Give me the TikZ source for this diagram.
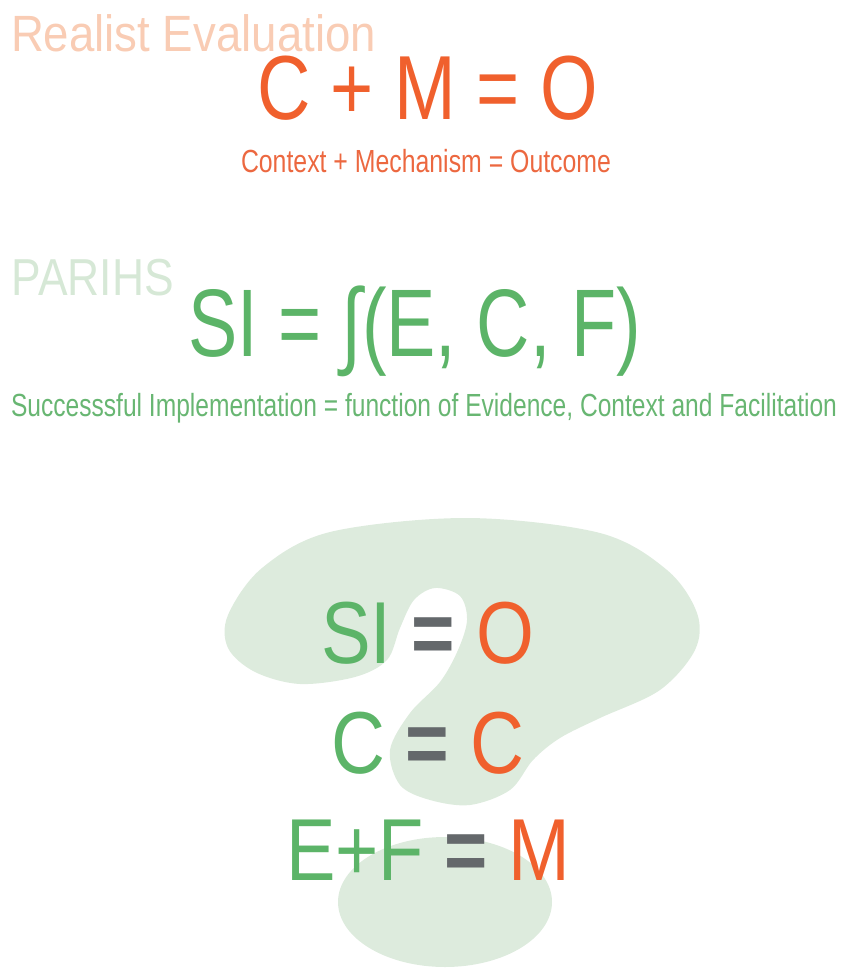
\documentclass[tikz,border=0pt]{standalone}
\usepackage{fontspec}
\usepackage{graphicx}
\setmainfont{Liberation Sans}
\definecolor{peach}{RGB}{249,204,180}
\definecolor{orng}{RGB}{240,96,45}
\definecolor{orngsmall}{RGB}{236,104,64}
\definecolor{grn}{RGB}{92,180,104}
\definecolor{grnsmall}{RGB}{104,182,114}
\definecolor{palegrn}{RGB}{214,232,214}
\definecolor{blob}{RGB}{221,235,221}
\definecolor{eqgray}{RGB}{100,104,107}
\newcommand\fitbox[3]{{\fontsize{#2}{#2}\selectfont\resizebox{#1pt}{\height}{#3}}}
\newcommand\greq{\textcolor{eqgray}{\bfseries =}}
\begin{document}
\begin{tikzpicture}[x=1pt,y=-1pt,
  txt/.style={inner sep=0pt,outer sep=0pt,anchor=base west}]
\useasboundingbox (0,0) rectangle (844,976);
% question-mark blob
\fill[blob] plot[smooth cycle,tension=0.55] coordinates {
 (467,518) (600,533) (667,570) (697,613) (695,650) (660,690) (600,718)
 (560,738) (533,760) (510,790) (470,805) (430,800) (400,785) (390,750)
 (410,713) (440,682) (458,650) (467,620) (460,596) (435,588) (414,600)
 (400,628) (387,660) (355,677) (300,684) (255,672) (228,648) (228,615)
 (262,568) (330,532)};
\fill[blob] (445,902) ellipse [x radius=107, y radius=65];
% texts
\node[txt,text=peach] (re) at (11,52) {\fitbox{365}{51}{Realist Evaluation}};
\node[txt,text=orng] (cmo) at (257,120) {\fitbox{341}{91}{C + M = O}};
\node[txt,text=orngsmall] (cmosub) at (241,173) {\fitbox{370}{32}{Context + Mechanism = Outcome}};
\node[txt,text=palegrn] (par) at (12,295) {\fitbox{162}{52}{PARIHS}};
\node[txt,text=grn] (si) at (188,356) {\fitbox{453}{96}{SI = ∫(E, C, F)}};
\node[txt,text=grnsmall] (sisub) at (11,416) {\fitbox{826}{32}{Successsful Implementation = function of Evidence, Context and Facilitation}};
\node[txt] (r1) at (321,663) {\fitbox{213}{88}{\textcolor{grn}{SI} \greq{} \textcolor{orng}{O}}};
\node[txt] (r2) at (331,773) {\fitbox{193}{88}{\textcolor{grn}{C} \greq{} \textcolor{orng}{C}}};
\node[txt] (r3) at (286,880) {\fitbox{284}{88}{\textcolor{grn}{E+F} \greq{} \textcolor{orng}{M}}};
\end{tikzpicture}
\end{document}
